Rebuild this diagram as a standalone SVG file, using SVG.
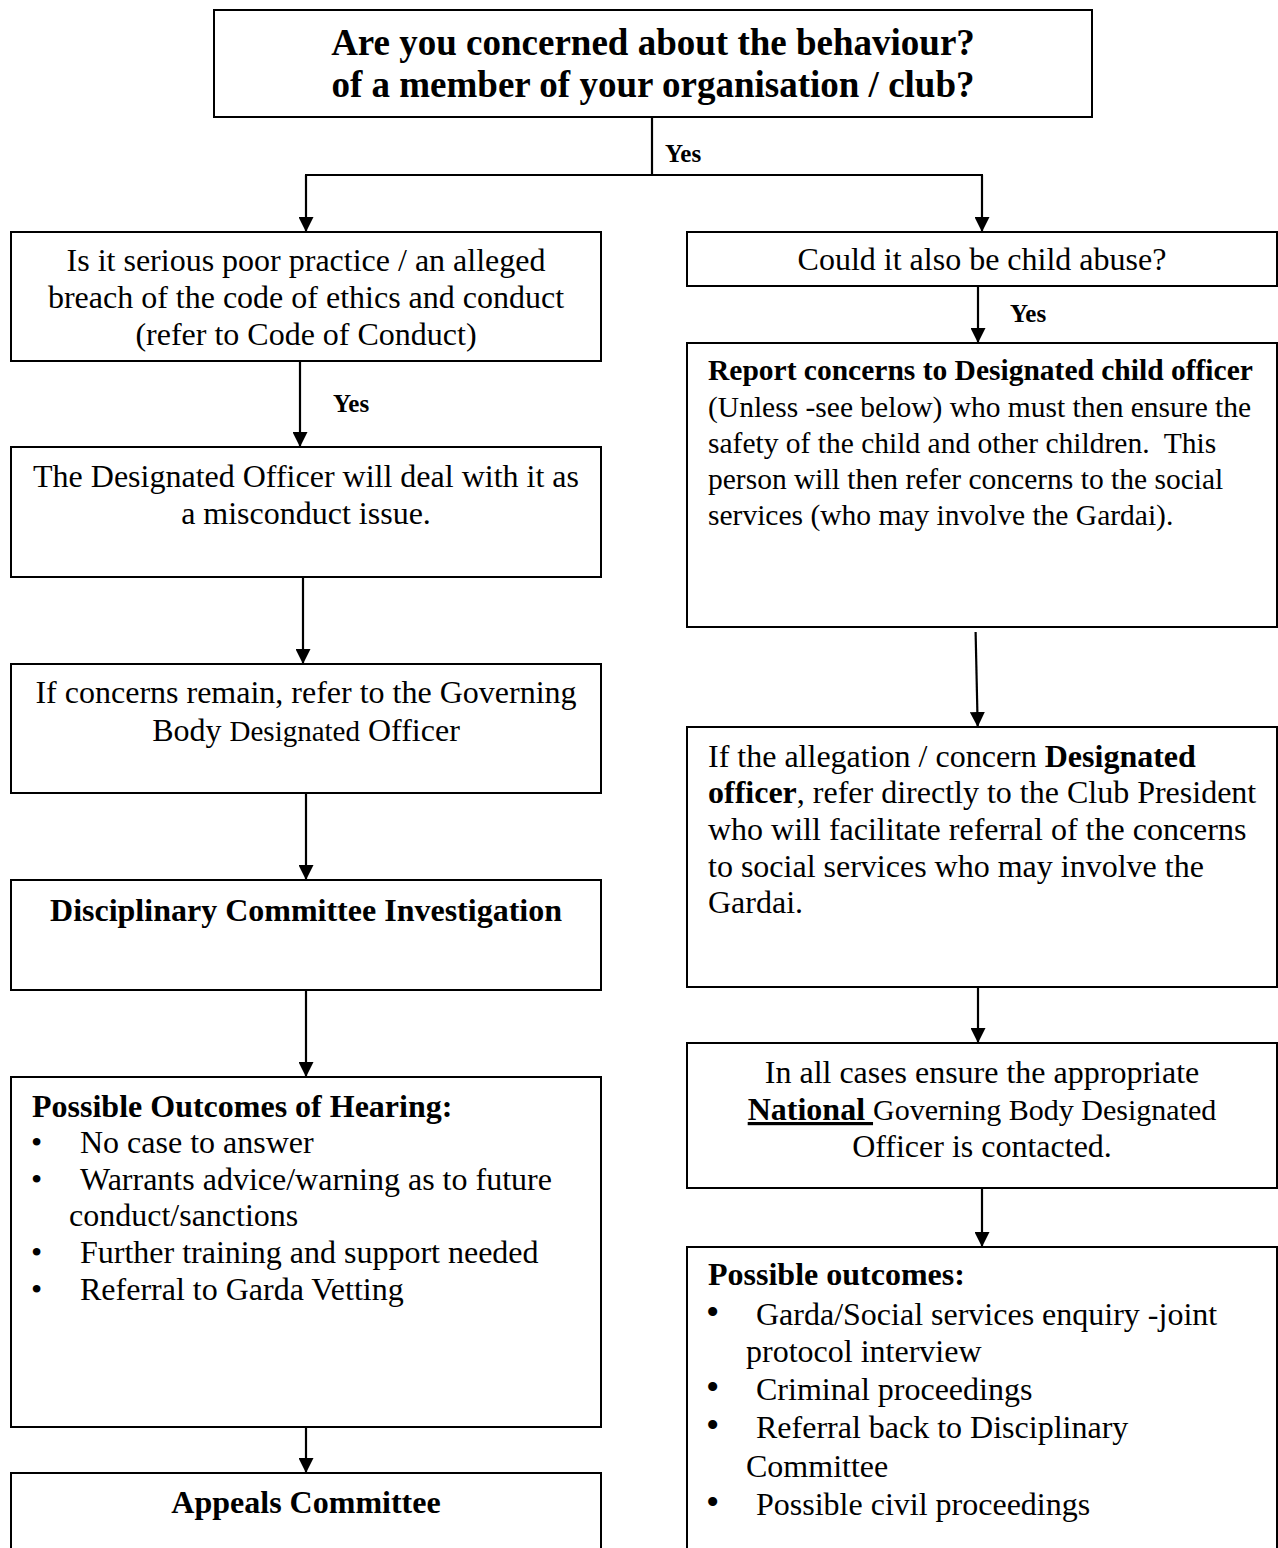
<svg xmlns="http://www.w3.org/2000/svg" width="1278" height="1548" viewBox="0 0 1278 1548">
<style>
.box{fill:#fff;stroke:#000;stroke-width:2}
.t{font-family:"Liberation Serif","Times New Roman",serif;font-size:32px;fill:#000}
.c{text-anchor:middle}
.b{font-weight:bold}
.r{font-size:29.5px}
.title{font-family:"Liberation Serif","Times New Roman",serif;font-size:37px;font-weight:bold;fill:#000;text-anchor:middle}
.yes{font-family:"Liberation Serif","Times New Roman",serif;font-size:25px;font-weight:bold;fill:#000}
.sm{font-size:29px}
.sm2{font-size:30px}
.conn line,.conn polyline{stroke:#000;stroke-width:2.2;fill:none}
</style>
<defs>
<marker id="ah" viewBox="0 0 16 16" refX="16" refY="8" markerWidth="15" markerHeight="15" markerUnits="userSpaceOnUse" orient="auto">
<path d="M0,0 L16,8 L0,16 z" fill="#000"/>
</marker>
</defs>
<rect width="1278" height="1548" fill="#fff"/>

<g class="conn" id="connectors">
<line x1="652" y1="117" x2="652" y2="175"/>
<line x1="305" y1="175" x2="983" y2="175"/>
<line x1="306" y1="175" x2="306" y2="232" marker-end="url(#ah)"/>
<line x1="982" y1="175" x2="982" y2="232" marker-end="url(#ah)"/>
<line x1="300" y1="361" x2="300" y2="447" marker-end="url(#ah)"/>
<line x1="303" y1="577" x2="303" y2="664" marker-end="url(#ah)"/>
<line x1="306" y1="793" x2="306" y2="880" marker-end="url(#ah)"/>
<line x1="306" y1="985" x2="306" y2="1077" marker-end="url(#ah)"/>
<line x1="306" y1="1427" x2="306" y2="1473" marker-end="url(#ah)"/>
<line x1="978" y1="286" x2="978" y2="343" marker-end="url(#ah)"/>
<line x1="975.6" y1="632" x2="977.7" y2="727" marker-end="url(#ah)"/>
<line x1="978" y1="987" x2="978" y2="1043" marker-end="url(#ah)"/>
<line x1="982" y1="1188" x2="982" y2="1247" marker-end="url(#ah)"/>
<text class="yes" x="665" y="162">Yes</text>
<text class="yes" x="333" y="412">Yes</text>
<text class="yes" x="1010" y="322">Yes</text>
</g>

<g id="n-top">
<rect class="box" x="214" y="10" width="878" height="107"/>
<text class="title" x="653" y="55">Are you concerned about the behaviour?</text>
<text class="title" x="653" y="97">of a member of your organisation / club?</text>
</g>

<g id="n-poor-practice">
<rect class="box" x="11" y="232" width="590" height="129"/>
<text class="t c" x="306" y="271">Is it serious poor practice / an alleged</text>
<text class="t c" x="306" y="308">breach of the code of ethics and conduct</text>
<text class="t c" x="306" y="345">(refer to Code of Conduct)</text>
</g>

<g id="n-child-abuse">
<rect class="box" x="687" y="232" width="590" height="54"/>
<text class="t c" x="982" y="270">Could it also be child abuse?</text>
</g>

<g id="n-report">
<rect class="box" x="687" y="343" width="590" height="284"/>
<text class="t r b" x="708" y="380">Report concerns to Designated child officer</text>
<text class="t r" x="708" y="417">(Unless -see below) who must then ensure the</text>
<text class="t r" x="708" y="453" xml:space="preserve">safety of the child and other children.  This</text>
<text class="t r" x="708" y="489">person will then refer concerns to the social</text>
<text class="t r" x="708" y="525">services (who may involve the Gardai).</text>
</g>

<g id="n-misconduct">
<rect class="box" x="11" y="447" width="590" height="130"/>
<text class="t c" x="306" y="487">The Designated Officer will deal with it as</text>
<text class="t c" x="306" y="524">a misconduct issue.</text>
</g>

<g id="n-governing">
<rect class="box" x="11" y="664" width="590" height="129"/>
<text class="t c" x="306" y="703">If concerns remain, refer to the Governing</text>
<text class="t c" x="306" y="741">Body <tspan class="sm">Designated</tspan> Officer</text>
</g>

<g id="n-disciplinary">
<rect class="box" x="11" y="880" width="590" height="110"/>
<text class="t c b" x="306" y="921">Disciplinary Committee Investigation</text>
</g>

<g id="n-president">
<rect class="box" x="687" y="727" width="590" height="260"/>
<text class="t" x="708" y="767">If the allegation / concern <tspan class="b">Designated</tspan></text>
<text class="t" x="708" y="803"><tspan class="b">officer</tspan>, refer directly to the Club President</text>
<text class="t" x="708" y="840">who will facilitate referral of the concerns</text>
<text class="t" x="708" y="877">to social services who may involve the</text>
<text class="t" x="708" y="913">Gardai.</text>
</g>

<g id="n-national">
<rect class="box" x="687" y="1043" width="590" height="145"/>
<text class="t c" x="982" y="1083">In all cases ensure the appropriate</text>
<text class="t c" x="982" y="1120" xml:space="preserve"><tspan class="b" text-decoration="underline">National </tspan><tspan class="sm2">Governing Body Designated</tspan></text>
<text class="t c" x="982" y="1157">Officer is contacted.</text>
</g>

<g id="n-outcomes-hearing">
<rect class="box" x="11" y="1077" width="590" height="350"/>
<text class="t b" x="32" y="1117">Possible Outcomes of Hearing:</text>
<text class="t" x="31" y="1153">•</text><text class="t" x="80" y="1153">No case to answer</text>
<text class="t" x="31" y="1190">•</text><text class="t" x="80" y="1190">Warrants advice/warning as to future</text>
<text class="t" x="69" y="1226">conduct/sanctions</text>
<text class="t" x="31" y="1263">•</text><text class="t" x="80" y="1263">Further training and support needed</text>
<text class="t" x="31" y="1300">•</text><text class="t" x="80" y="1300">Referral to Garda Vetting</text>
</g>

<g id="n-appeals">
<rect class="box" x="11" y="1473" width="590" height="100"/>
<text class="t c b" x="306" y="1513">Appeals Committee</text>
</g>

<g id="n-possible-outcomes">
<rect class="box" x="687" y="1247" width="590" height="330"/>
<text class="t b" x="708" y="1285">Possible outcomes:</text>
<text class="t" x="706" y="1325" style="font-size:38px">•</text><text class="t" x="756" y="1325">Garda/Social services enquiry -joint</text>
<text class="t" x="746" y="1362">protocol interview</text>
<text class="t" x="706" y="1400" style="font-size:38px">•</text><text class="t" x="756" y="1400">Criminal proceedings</text>
<text class="t" x="706" y="1438" style="font-size:38px">•</text><text class="t" x="756" y="1438">Referral back to Disciplinary</text>
<text class="t" x="746" y="1477">Committee</text>
<text class="t" x="706" y="1515" style="font-size:38px">•</text><text class="t" x="756" y="1515">Possible civil proceedings</text>
</g>
</svg>
